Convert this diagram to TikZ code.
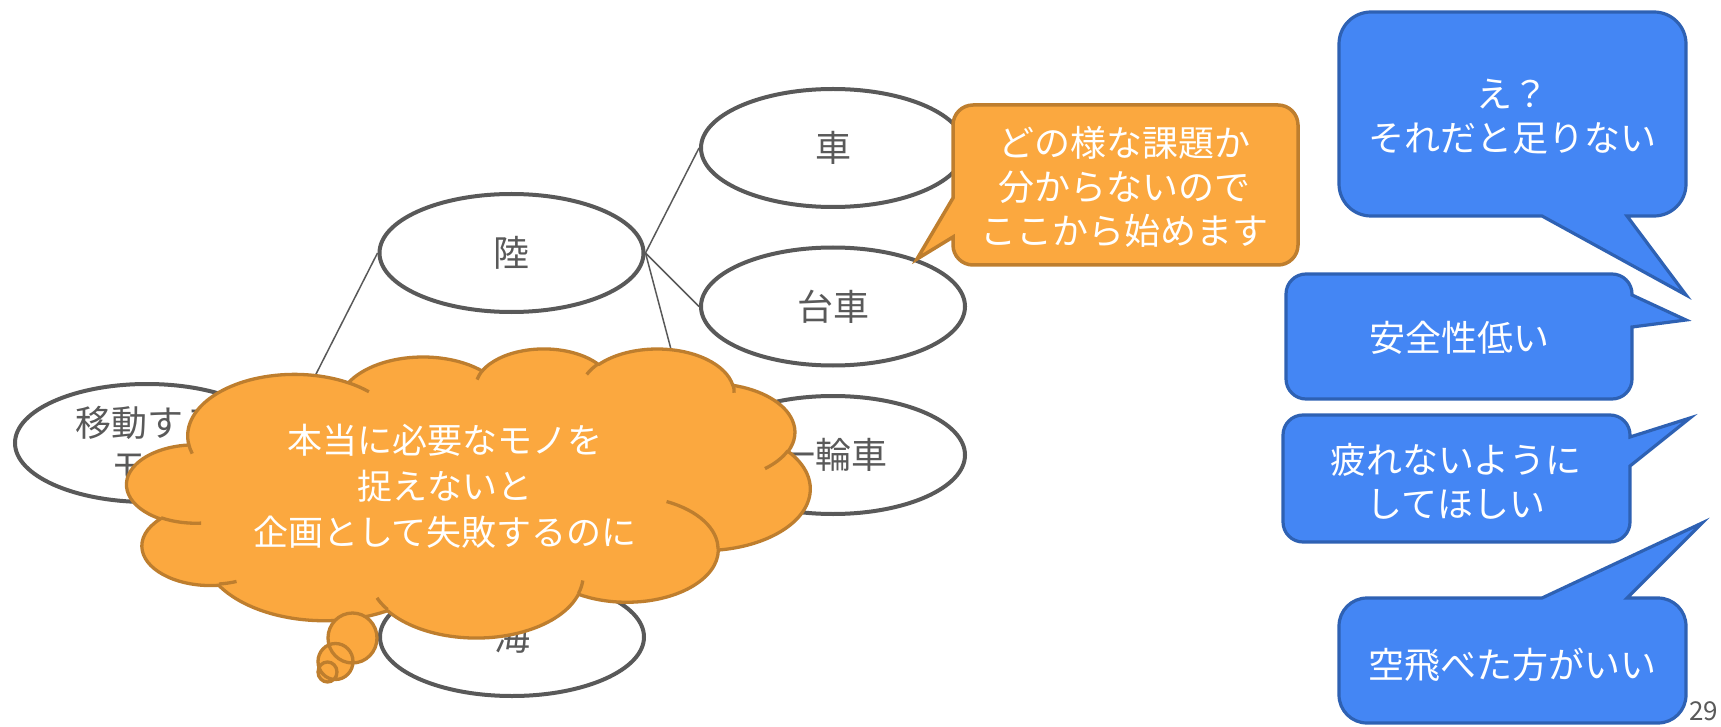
\documentclass[tikz,border=0pt]{standalone}
\usepackage{fontspec}
\setmainfont{Noto Sans CJK JP}
\usetikzlibrary{shapes.geometric}
\definecolor{ogray}{HTML}{595959}
\definecolor{orfill}{HTML}{FBA83F}
\definecolor{ordraw}{HTML}{BE7E2E}
\definecolor{blfill}{HTML}{4486F4}
\definecolor{bldraw}{HTML}{2E61B3}
\pgfmathdeclarefunction{ppang}{3}{\pgfmathparse{atan2((#1)*sin(#3),(#2)*cos(#3))}}
\newcommand\ca[4]{arc[x radius=#1, y radius=#2, start angle={ppang(#1,#2,#3)}, delta angle={mod(ppang(#1,#2,#3+#4)-ppang(#1,#2,#3)+720,360)}]}
\tikzset{
  leaf/.style={ellipse, draw=ogray, line width=4pt, fill=white, minimum width=264pt, minimum height=118pt, inner sep=0pt, text=ogray, font=\fontsize{36}{43}\selectfont, align=center},
  conn/.style={draw=ogray, line width=1.5pt},
  cloudshape/.style={fill=orfill, draw=ordraw, line width=3.3pt, line join=round},
  cloudline/.style={draw=ordraw, line width=3.3pt},
  orcall/.style={fill=orfill, draw=ordraw, line width=3.5pt, line join=miter},
  blcall/.style={fill=blfill, draw=bldraw, line width=3.2pt, line join=miter},
  wtext/.style={text=white, font=\fontsize{36}{44}\selectfont, align=center, inner sep=0pt},
}
\begin{document}
\begin{tikzpicture}[x=1pt,y=-1pt]
\useasboundingbox (0,0) rectangle (1721,727);
% tree
\node[leaf] (root) at (147,443) {移動する\\モノ};
\node[leaf] (riku) at (511.5,253) {陸};
\node[leaf] (umi) at (512,637) {海};
\node[leaf] (kuruma) at (833,148) {車};
\node[leaf] (daisha) at (833,306.5) {台車};
\node[leaf] (ichirin) at (833,455) {一輪車};
\draw[conn] (root.east) -- (riku.west);
\draw[conn] (root.east) -- (umi.west);
\draw[conn] (riku.east) -- (kuruma.west);
\draw[conn] (riku.east) -- (daisha.west);
\draw[conn] (riku.east) -- (ichirin.west);
% cloud callout
\begin{scope}[shift={(127,348)}, x=1.58102pt, y=-0.668981pt]
\draw[cloudshape] (39,143.7)
  \ca{67.53}{91.90}{-190.4875}{123.7805}
  \ca{53.33}{72.67}{-144.1024}{89.9452}
  \ca{43.65}{59.45}{-145.8079}{99.7230}
  \ca{48.57}{65.95}{-130.9861}{117.2417}
  \ca{53.33}{72.73}{-78.7089}{109.0269}
  \ca{67.75}{92.20}{-46.2673}{130.2690}
  \ca{57.85}{78.67}{0.6250}{114.0333}
  \ca{67.52}{92.15}{22.4516}{115.1726}
  \ca{77.20}{105.43}{66.2426}{75.7110}
  \ca{43.60}{59.18}{-274.9421}{146.7356}
  \ca{43.45}{59.45}{-246.8285}{152.5189}
  -- cycle;
\end{scope}
\fill[orfill] (352.5,638) ellipse[x radius=24.5, y radius=25]
  (335.5,661.5) ellipse[x radius=17.5, y radius=18]
  (327.5,672) ellipse[x radius=9.5, y radius=10];
\draw[cloudline] (352.5,638) ellipse[x radius=24.5, y radius=25]
  (335.5,661.5) ellipse[x radius=17.5, y radius=18]
  (327.5,672) ellipse[x radius=9.5, y radius=10];
\begin{scope}[shift={(127,348)}, x=1.58102pt, y=-0.668981pt]
\draw[cloudline]
  (46.93,261.77) \ca{43.45}{59.45}{86.742}{26.4295}
  (69.28,348.99) \ca{43.60}{59.18}{73.6105}{11.4475}
  (164.78,390.90) \ca{67.52}{92.15}{137.6242}{14.0811}
  (288.27,347.51) \ca{67.52}{92.15}{6.4533}{15.9984}
  (341.29,229.54) \ca{57.85}{78.67}{-70.2924}{70.9174}
  (417.98,153.54) \ca{53.33}{72.73}{30.3180}{27.7515}
  (383.24,54.26) \ca{48.57}{65.95}{-13.7443}{14.8589}
  (290.78,39.52) \ca{48.57}{65.95}{-149.1815}{18.1954}
  (221.41,47.20) \ca{43.65}{59.45}{-163.4943}{17.6864}
  (140.00,51.92) \ca{67.53}{91.90}{-66.7070}{12.3194}
  (41.27,157.89) \ca{67.53}{91.90}{157.6544}{11.8582};
\end{scope}
\node[wtext, font=\fontsize{35}{46}\selectfont] (cloudtext) at (445,486) {本当に必要なモノを\\捉えないと\\企画として失敗するのに};
% orange callout
\draw[orcall] (953,125) arc[start angle=180,end angle=270,radius=20] -- (1278,105) arc[start angle=270,end angle=360,radius=20] -- (1298,245) arc[start angle=0,end angle=90,radius=20] -- (973,265) arc[start angle=90,end angle=180,radius=20] -- (953,237) -- (917,259) -- (953,198) -- cycle;
\node[wtext] (otext) at (1124,187) {どの様な課題か\\分からないので\\ここから始めます};
% blue callouts
\draw[blcall] (1339,44) arc[start angle=180,end angle=270,radius=32] -- (1654,12) arc[start angle=270,end angle=360,radius=32] -- (1686,184) arc[start angle=0,end angle=90,radius=32] -- (1627,216) -- (1686,295) -- (1542,216) -- (1371,216) arc[start angle=90,end angle=180,radius=32] -- cycle;
\node[wtext] (b1) at (1512,117) {え？\\それだと足りない};
\draw[blcall] (1286,294) arc[start angle=180,end angle=270,radius=20] -- (1612,274) arc[start angle=270,end angle=360,radius=20] -- (1632,295) -- (1686,320) -- (1632,327) -- (1632,379) arc[start angle=0,end angle=90,radius=20] -- (1306,399) arc[start angle=90,end angle=180,radius=20] -- cycle;
\node[wtext] (b2) at (1459,338) {安全性低い};
\draw[blcall] (1283,435) arc[start angle=180,end angle=270,radius=20] -- (1610,415) arc[start angle=270,end angle=360,radius=20] -- (1630,437) -- (1690,418) -- (1630,466) -- (1630,522) arc[start angle=0,end angle=90,radius=20] -- (1303,542) arc[start angle=90,end angle=180,radius=20] -- cycle;
\node[wtext] (b3) at (1456,481) {疲れないように\\してほしい};
\draw[blcall] (1339,626) arc[start angle=180,end angle=270,radius=28] -- (1542,598) -- (1702,523) -- (1627,598) -- (1658,598) arc[start angle=270,end angle=360,radius=28] -- (1686,695) arc[start angle=0,end angle=90,radius=28] -- (1367,723) arc[start angle=90,end angle=180,radius=28] -- cycle;
\node[wtext] (b4) at (1512,665) {空飛べた方がいい};
% page number
\node[anchor=west, inner sep=0pt, text=ogray, font=\fontsize{26}{30}\selectfont] (pg) at (1689,711) {29};
\end{tikzpicture}
\end{document}
